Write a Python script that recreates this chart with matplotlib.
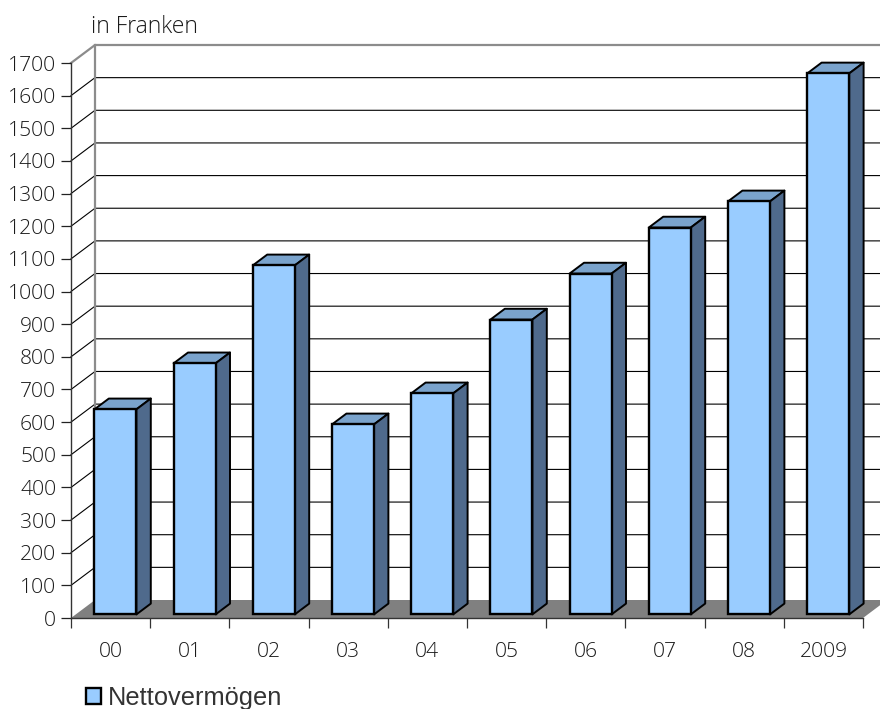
import numpy as np
import matplotlib
matplotlib.use("Agg")
import matplotlib.pyplot as plt
from matplotlib.patches import Polygon

# Nettovermögen pro Jahr, in Franken
jahre = ["00", "01", "02", "03", "04", "05", "06", "07", "08", "2009"]
vermoegen = [628, 769, 1069, 582, 677, 903, 1044, 1185, 1265, 1657]
y_ticks = list(range(0, 1701, 100))

plt.rcParams["font.family"] = ["Open Sans", "DejaVu Sans"]
plt.rcParams["font.weight"] = "light"

W, H = 880, 709
fig = plt.figure(figsize=(W / 100, H / 100), dpi=100)
# vordere Ebene der Achsen in Pixeln
ax = fig.add_axes([71 / W, (H - 618) / H, 792 / W, 555 / H])
ax.set_xlim(0, len(jahre))
ax.set_ylim(0, 1700)

# Schraegprojektion: Tiefe in Dateneinheiten
dx = 24 / 79.2
dy = 18 / (555 / 1700)
grau = "#8c8c8c"
text_farbe = "#1a1a1a"

# Boden
ax.add_patch(Polygon([(0, 0), (dx, dy), (10 + dx, dy), (10, 0)], closed=True,
                     fc="#808080", ec="none", clip_on=False, zorder=1))

# Gitterlinien auf Rueck- und Seitenwand
for t in y_ticks[1:-1]:
    ax.plot([0, dx, 10 + dx], [t, t + dy, t + dy], color="black", lw=0.8,
            clip_on=False, zorder=1.5, solid_joinstyle="miter")
ax.plot([0, dx, 10 + dx], [1700, 1700 + dy, 1700 + dy], color=grau, lw=1.6,
        clip_on=False, zorder=1.5)
ax.plot([dx, dx], [dy, 1700 + dy], color=grau, lw=1.6, clip_on=False, zorder=1.5)

# Saeulen: Vorderseite als bar, Dach und Seite als Polygone
breite = 42 / 79.2
x = np.arange(len(jahre)) + 0.5 + 0.2 * dx
basis = 0.2 * dy
tx = 0.6 * dx
ty = 0.6 * dy
bars = ax.bar(x, vermoegen, width=breite, bottom=basis, color="#99ccff",
              edgecolor="black", linewidth=1.7, clip_on=False, zorder=3,
              label="Nettovermögen")
for xi, v in zip(x, vermoegen):
    l, r = xi - breite / 2, xi + breite / 2
    oben = v + basis
    ax.add_patch(Polygon([(l, oben), (l + tx, oben + ty), (r + tx, oben + ty), (r, oben)],
                         closed=True, fc="#7aa3cc", ec="black", lw=1.4,
                         joinstyle="round", clip_on=False, zorder=2.5))
    ax.add_patch(Polygon([(r, basis), (r + tx, basis + ty), (r + tx, oben + ty), (r, oben)],
                         closed=True, fc="#4f6a8c", ec="black", lw=1.4,
                         joinstyle="round", clip_on=False, zorder=2.5))

# Achsen
for s in ["top", "right"]:
    ax.spines[s].set_visible(False)
ax.spines["left"].set_color("#333333")
ax.spines["left"].set_linewidth(1.0)
ax.spines["bottom"].set_color("#333333")
ax.spines["bottom"].set_linewidth(1.0)
ax.spines["left"].set_zorder(2)
ax.spines["bottom"].set_zorder(2)

ax.set_yticks(y_ticks)
ax.tick_params(axis="y", length=7.2, width=0.9, color="#222222", pad=3.5,
               labelsize=15.2, labelcolor=text_farbe)
ax.set_xticks(np.arange(len(jahre) + 1))
ax.set_xticklabels([])
ax.set_xticks(np.arange(len(jahre)) + 0.5, minor=True)
ax.set_xticklabels(jahre, minor=True)
ax.tick_params(axis="x", which="major", length=7.2, width=0.9, color="#333333")
ax.tick_params(axis="x", which="minor", length=0, pad=17, labelsize=15.2,
               labelcolor=text_farbe)

fig.text(91 / W, (H - 33) / H, "in Franken", fontsize=16.5, color=text_farbe)

leg = fig.legend(handles=[bars], loc="lower left", bbox_to_anchor=(68 / W, -19 / H),
                 frameon=False, handlelength=0.6, handleheight=0.6, handletextpad=0.25,
                 borderpad=0.2, prop={"family": "Liberation Sans", "size": 18.3, "weight": "normal"},
                 labelcolor="#333333")

fig.savefig("out.png", dpi=100)
